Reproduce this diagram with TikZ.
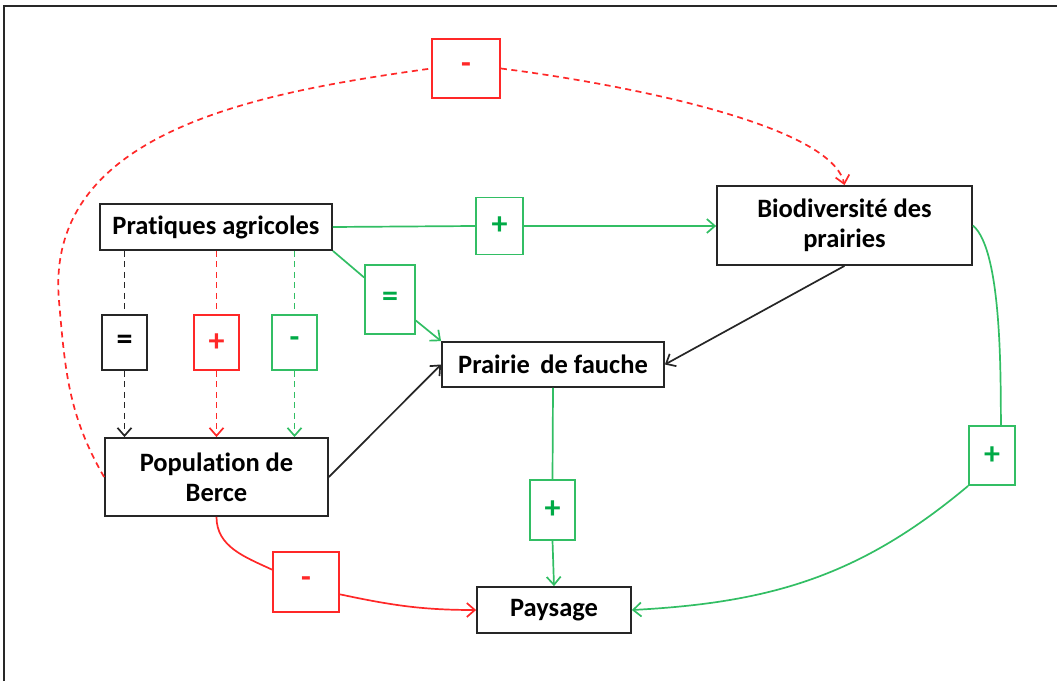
\documentclass[tikz,border=0pt]{standalone}
\usepackage{fontspec}
\setmainfont{Carlito}[Ligatures=CommonOff]
\usetikzlibrary{arrows.meta}
\definecolor{myred}{RGB}{255,40,40}
\definecolor{mygreen}{RGB}{50,190,100}
\definecolor{mygreentxt}{RGB}{0,170,70}
\definecolor{myframe}{RGB}{40,40,40}
\begin{document}
\begin{tikzpicture}[x=1pt,y=1pt,
  box/.style={draw=black!85, line width=1.8pt, inner sep=0pt, align=center,
    font=\fontsize{26.5}{30}\selectfont\bfseries},
  lab/.style={draw, line width=1.8pt, fill=white, inner sep=0pt,
    font=\fontsize{32}{34}\selectfont\bfseries},
  redlab/.style={lab, draw=myred, text=myred},
  greenlab/.style={lab, draw=mygreen, text=mygreentxt},
  blacklab/.style={lab, draw=black!85, text=black},
  conn/.style={line width=1.7pt},
  arr/.style={conn, -{Straight Barb[length=8pt,width=14pt,line width=1.7pt]}},
  dsh/.style={dash pattern=on 6pt off 4.5pt}
]
\useasboundingbox (0,0) rectangle (1057,681);
% frame (top and left edges visible)
\draw[myframe, line width=2pt] (4,0) -- (4,675) -- (1057,675);

% main nodes
\node[box, minimum width=232pt, minimum height=46pt] (prat) at (216,454) {Pratiques agricoles};
\node[box, minimum width=255pt, minimum height=79pt] (bio) at (844.5,455.5) {Biodiversité des\\prairies};
\node[box, minimum width=222pt, minimum height=45pt] (prairie) at (553,316.5) {Prairie\, de fauche};
\node[box, minimum width=223pt, minimum height=78pt] (berce) at (216.5,204) {Population de\\Berce};
\node[box, minimum width=154pt, minimum height=46pt] (pays) at (554,71) {Paysage};

% labels
\node[redlab, minimum width=68pt, minimum height=59pt] (mtop) at (466,612.5) {-};
\node[greenlab, minimum width=47pt, minimum height=57pt] (p1) at (499.5,455) {+};
\node[greenlab, minimum width=50pt, minimum height=69pt] (eqg) at (390,381.5) {=};
\node[blacklab, minimum width=45pt, minimum height=55pt] (eqb) at (124.5,338.5) {=};
\node[redlab, minimum width=45pt, minimum height=55pt] (pr) at (216.5,338.5) {+};
\node[greenlab, minimum width=45pt, minimum height=55pt] (mg) at (294.5,338.5) {-};
\node[greenlab, minimum width=45pt, minimum height=60pt] (p3) at (552.5,171) {+};
\node[redlab, minimum width=66pt, minimum height=60pt] (mr) at (306,99) {-};
\node[greenlab, minimum width=46pt, minimum height=59pt] (pright) at (992,225.5) {+};

% Pratiques -> Biodiversite
\draw[conn, mygreen] (prat.east) -- (p1.west);
\draw[arr, mygreen] (p1.east) -- (p1.east -| bio.west);
% Pratiques -> Prairie
\draw[conn, mygreen] (prat.south east) -- (eqg);
\draw[arr, mygreen] (eqg) -- (prairie.north west);
% Pratiques -> Berce (dashed)
\draw[conn, dsh, black!85] (prat.south -| eqb) -- (eqb.north);
\draw[arr, dsh, black!85] (eqb.south) -- (berce.north -| eqb);
\draw[conn, dsh, myred] (prat.south -| pr) -- (pr.north);
\draw[arr, dsh, myred] (pr.south) -- (berce.north -| pr);
\draw[conn, dsh, mygreen] (prat.south -| mg) -- (mg.north);
\draw[arr, dsh, mygreen] (mg.south) -- (berce.north -| mg);
% Biodiversite -> Prairie, Berce -> Prairie
\draw[arr, black!85] (bio.south) -- (prairie.east);
\draw[arr, black!85] (berce.east) -- (prairie.west);
% Prairie -> Paysage
\draw[conn, mygreen] (prairie.south) -- (p3.north);
\draw[arr, mygreen] (p3.south) -- (pays.north);
% Berce -> Paysage
\draw[conn, myred] (berce.south) to[out=-90,in=155] (mr.160);
\draw[arr, myred] (mr.-20) to[out=-12,in=180] (pays.west);
% Biodiversite -> Paysage
\draw[conn, mygreen] (bio.east) to[out=-40,in=91,looseness=0.5] ([xshift=9pt]pright.north);
\draw[arr, mygreen] (pright.south west) to[out=-140,in=3] (pays.east);
% Berce -> Biodiversite (dashed, red)
\draw[conn, dsh, myred] (berce.west) to[out=120,in=-85] (59,380) to[out=95,in=188] (mtop.west);
\draw[arr, dsh, myred] (mtop.east) .. controls (600,600) and (830,560) .. (bio.north);
\end{tikzpicture}
\end{document}
